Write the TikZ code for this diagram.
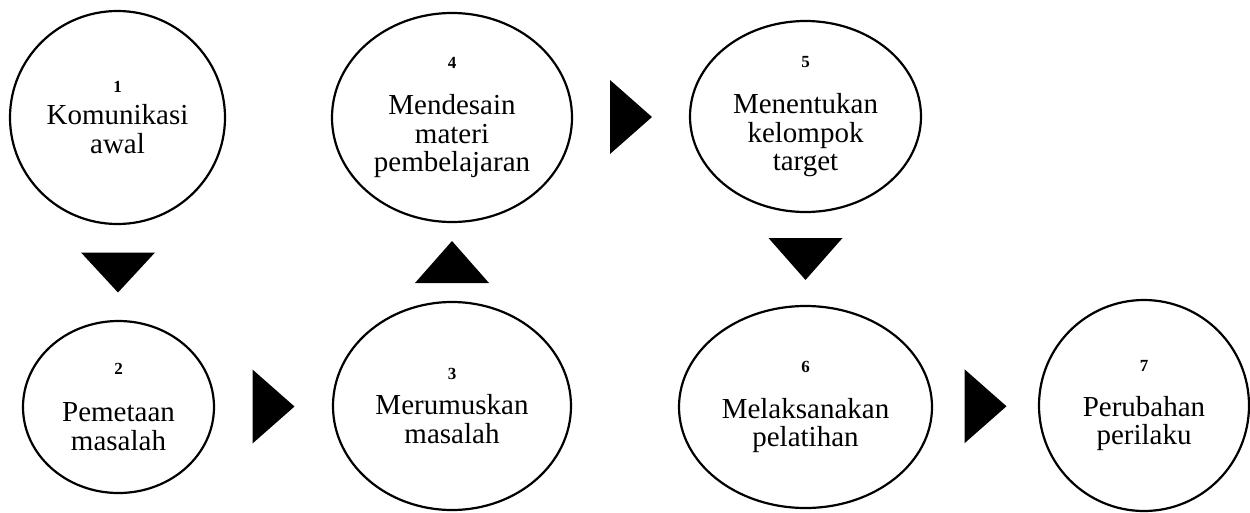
\documentclass[tikz,border=0pt]{standalone}
\usepackage{fontspec}
\setmainfont{Liberation Serif}
\usetikzlibrary{shapes.geometric,calc}

\newcommand{\stagenr}[1]{{\fontsize{17}{17}\selectfont\bfseries #1}}

\tikzset{
stage/.style={
  ellipse,
  draw,
  line width=2.2pt,
  inner sep=0pt,
  outer sep=0pt,
  align=center,
  font=\fontsize{29}{28.4}\selectfont,
},
tri/.style={
  fill=black,
},
}

\begin{document}
\begin{tikzpicture}[x=1pt, y=1pt]
\useasboundingbox (0,0) rectangle (1250,-512);
%top row
\node[stage, minimum width=215pt, minimum height=213pt](e1) at (117.5,-117.5) {\stagenr{1}\\[4pt]Komunikasi\\awal};
\node[stage, minimum width=240pt, minimum height=209pt](e4) at (452,-117.5) {\stagenr{4}\\[18pt]Mendesain\\materi\\pembelajaran};
\node[stage, minimum width=231pt, minimum height=191pt](e5) at (805.5,-116.5) {\stagenr{5}\\[18pt]Menentukan\\kelompok\\target};
%bottom row
\node[stage, minimum width=191pt, minimum height=172pt](e2) at (118.5,-407) {\stagenr{2}\\[19pt]Pemetaan\\masalah};
\node[stage, minimum width=238pt, minimum height=208pt](e3) at (452,-406) {\stagenr{3}\\[7pt]Merumuskan\\masalah};
\node[stage, minimum width=253pt, minimum height=202pt](e6) at (805.5,-407) {\stagenr{6}\\[17pt]Melaksanakan\\pelatihan};
\node[stage, minimum width=210pt, minimum height=211pt](e7) at (1144,-405.5) {\stagenr{7}\\[17pt]Perubahan\\perilaku};

%triangles between the stages
\coordinate (a12) at ($(e1.south)!0.5!(e2.north)$);
\coordinate (a23) at ($(e2.east)!0.5!(e3.west)$);
\coordinate (a34) at ($(e3.north)!0.5!(e4.south)$);
\coordinate (a45) at ($(e4.east)!0.5!(e5.west)$);
\coordinate (a56) at ($(e5.south)!0.5!(e6.north)$);
\coordinate (a67) at ($(e6.east)!0.5!(e7.west)$);

\fill[tri, shift={(a12)}, rotate=-90] (-20,-37) -- (-20,37) -- (20,0) -- cycle;
\fill[tri, shift={(a23)}] (-21,-37) -- (-21,37) -- (21,0) -- cycle;
\fill[tri, shift={(a34)}, rotate=90] (-21,-37) -- (-21,37) -- (21,0) -- cycle;
\fill[tri, shift={(a45)}] (-21,-37) -- (-21,37) -- (21,0) -- cycle;
\fill[tri, shift={(a56)}, rotate=-90] (-21,-37) -- (-21,37) -- (21,0) -- cycle;
\fill[tri, shift={(a67)}] (-21,-37) -- (-21,37) -- (21,0) -- cycle;

\end{tikzpicture}
\end{document}
